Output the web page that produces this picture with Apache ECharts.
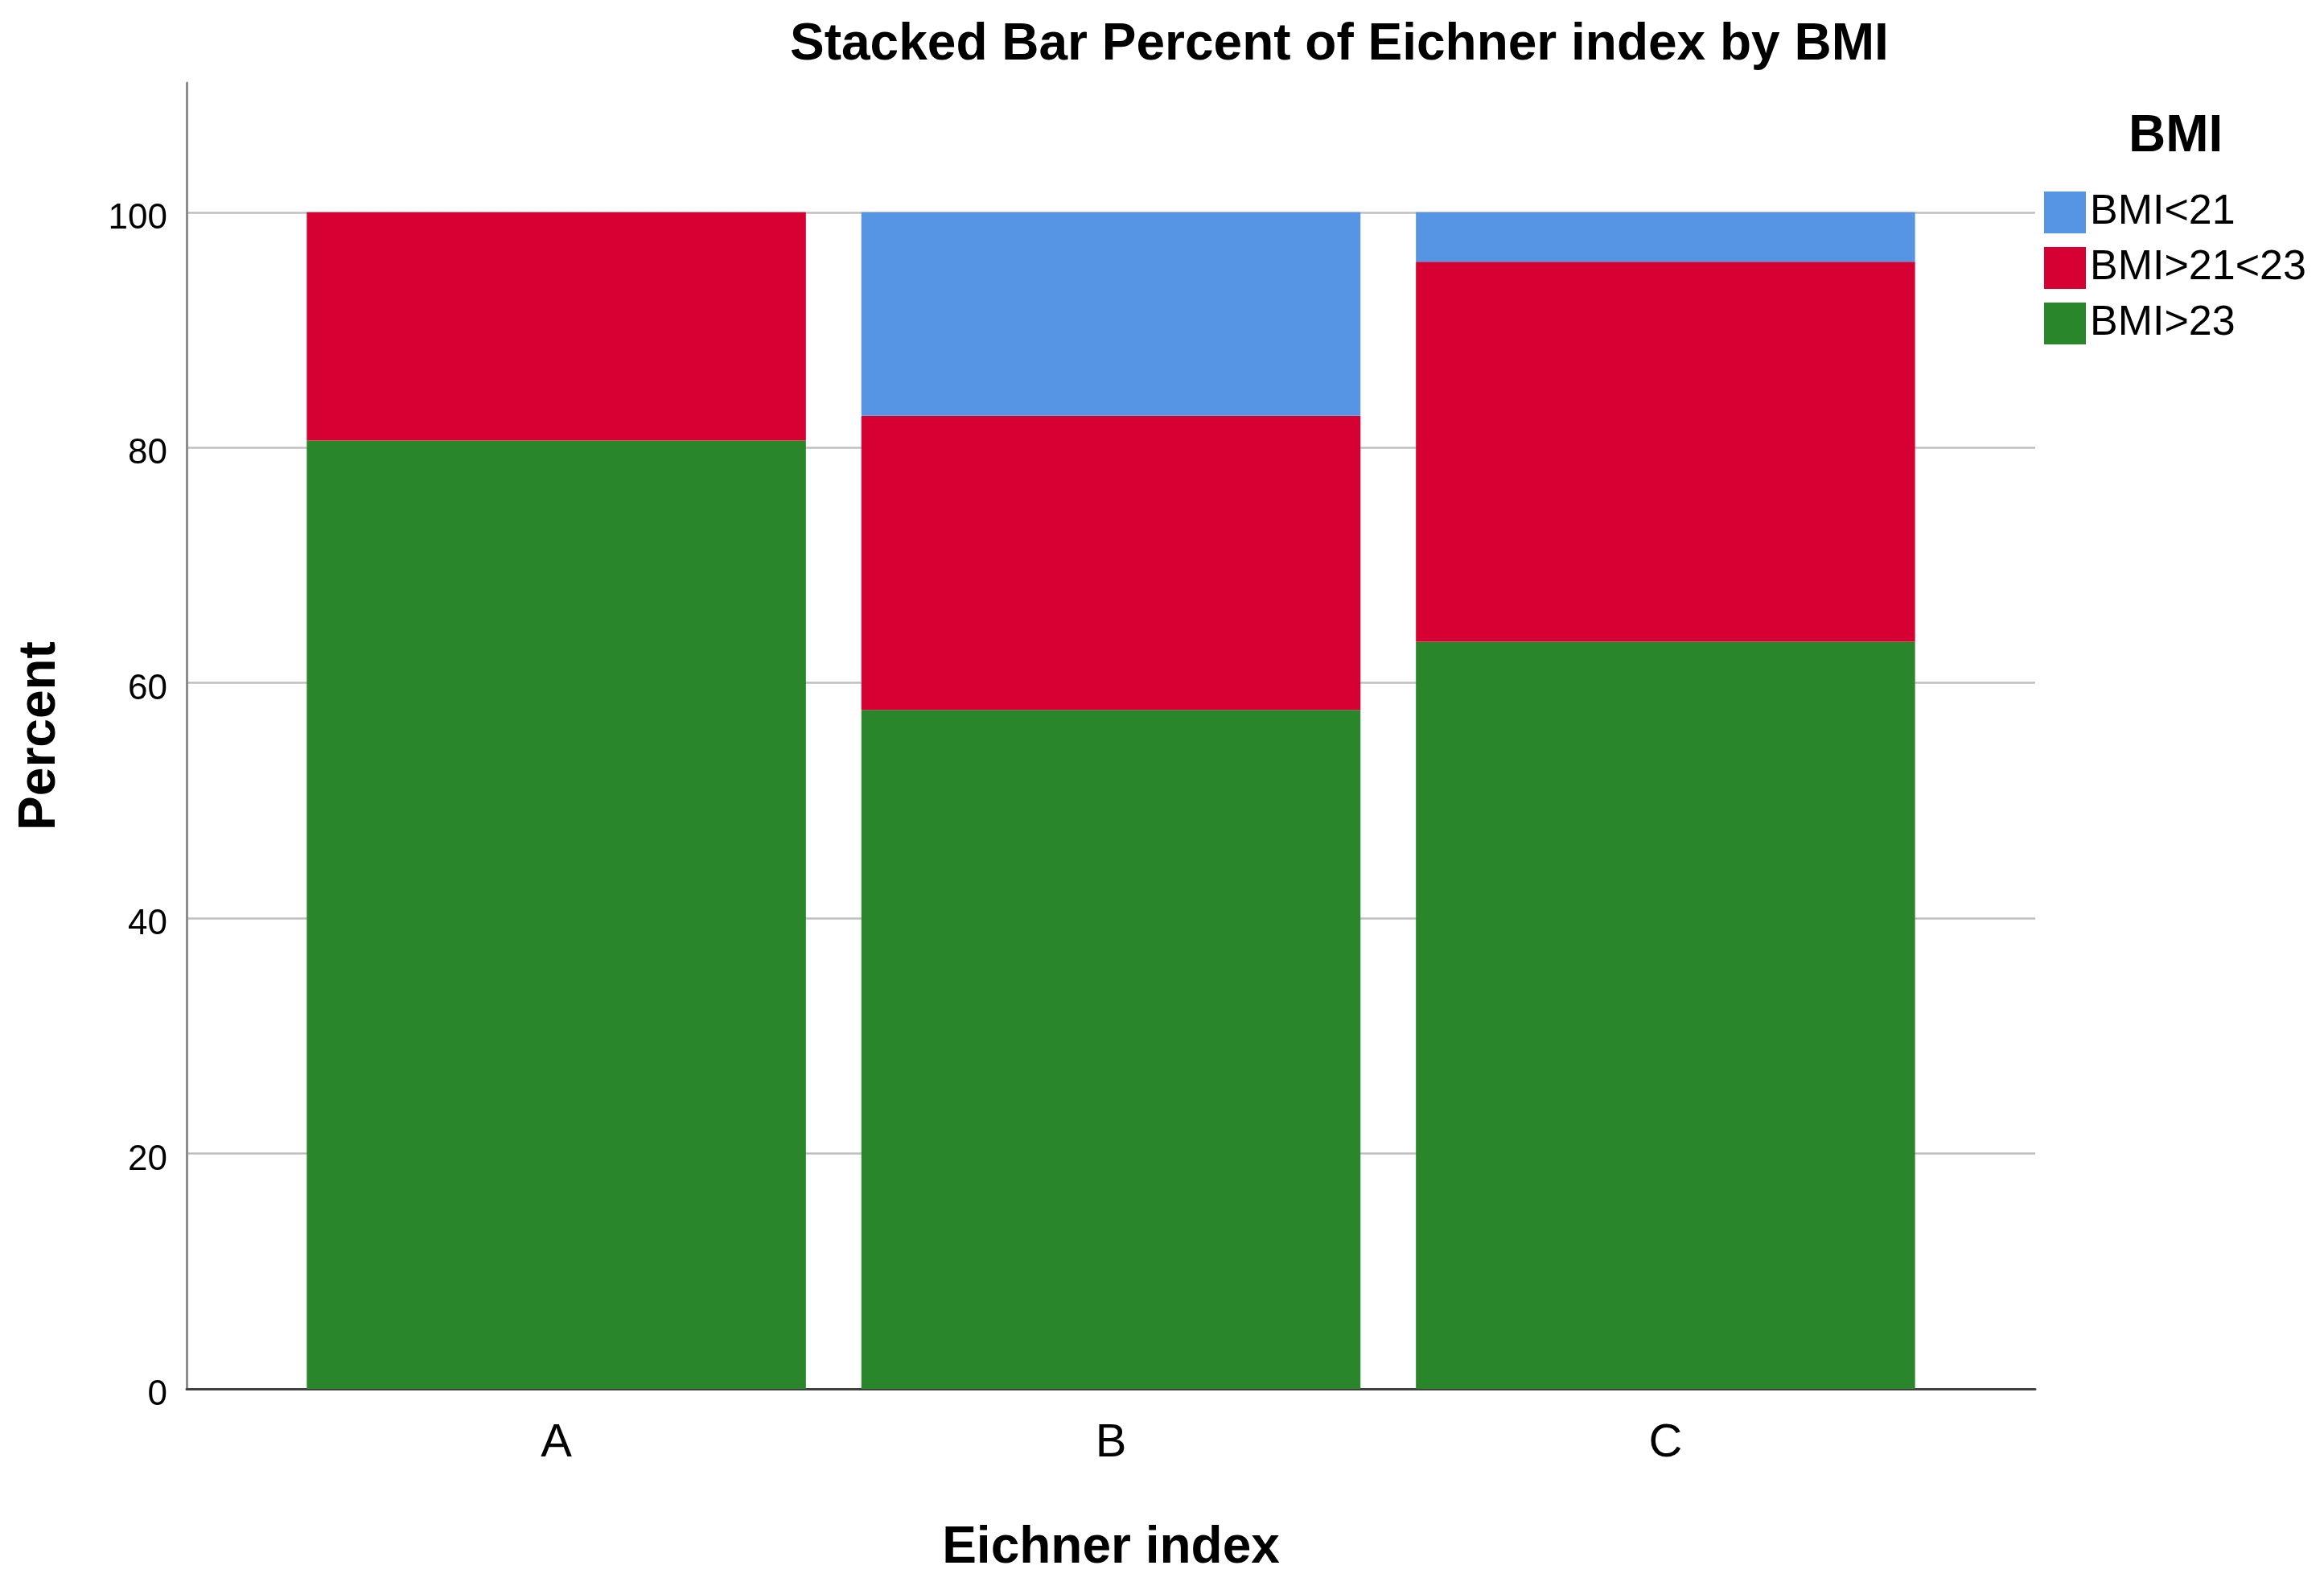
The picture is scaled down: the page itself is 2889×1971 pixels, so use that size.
<!DOCTYPE html>
<html>
<head>
<meta charset="utf-8">
<script src="https://cdn.jsdelivr.net/npm/echarts@6/dist/echarts.min.js"></script>
<style>
html,body{margin:0;padding:0;background:#fff;}
#chart{width:2889px;height:1971px;}
</style>
</head>
<body>
<div id="chart"></div>
<script>
const categories = ['A', 'B', 'C'];
const seriesNames = ['BMI<21', 'BMI>21<23', 'BMI>23'];
const bmiUnder21 = [0, 17.3, 4.2];
const bmi21to23 = [19.4, 25.0, 32.3];
const bmiOver23 = [80.6, 57.7, 63.5];
const yTicks = [0, 20, 40, 60, 80, 100];

const colors = {'BMI<21': '#5595e3', 'BMI>21<23': '#d70032', 'BMI>23': '#29862a'};
const FONT = '"Liberation Sans", Arial, sans-serif';

// points stored as [percent, categoryPosition]; encode maps column 1 to x, column 0 to y
function toPoints(vals) {
  return vals.map((v, i) => [v, i + 1]);
}

const chart = echarts.init(document.getElementById('chart'), null, {renderer: 'canvas'});

const stackOrder = [
  ['BMI>23', bmiOver23],
  ['BMI>21<23', bmi21to23],
  ['BMI<21', bmiUnder21]
];

const option = {
  backgroundColor: '#ffffff',
  animation: false,
  title: [
    {
      text: 'Stacked Bar Percent of Eichner index by BMI',
      left: 977,
      top: 19,
      textStyle: {fontFamily: FONT, fontWeight: 'bold', fontSize: 64, color: '#000'}
    },
    {
      text: 'BMI',
      left: 2641,
      top: 133,
      textStyle: {fontFamily: FONT, fontWeight: 'bold', fontSize: 64, color: '#000'}
    }
  ],
  legend: {
    orient: 'vertical',
    left: 2536,
    top: 233,
    icon: 'rect',
    itemWidth: 52,
    itemHeight: 52,
    itemGap: 17,
    data: seriesNames,
    textStyle: {fontFamily: FONT, fontSize: 52, color: '#000'}
  },
  grid: {
    left: 232,
    right: 359,
    top: 103,
    bottom: 245
  },
  xAxis: {
    type: 'value',
    min: 1 / 3,
    max: 11 / 3,
    name: 'Eichner index',
    nameLocation: 'middle',
    nameGap: 166,
    nameTextStyle: {fontFamily: FONT, fontWeight: 'bold', fontSize: 64, color: '#000'},
    axisLine: {show: true, lineStyle: {color: '#404040', width: 3}},
    axisTick: {show: false},
    splitLine: {show: false},
    axisLabel: {
      customValues: [1, 2, 3],
      formatter: v => categories[Math.round(v) - 1] || '',
      fontFamily: FONT,
      fontSize: 58,
      color: '#000',
      margin: 39
    }
  },
  yAxis: {
    type: 'value',
    min: 0,
    max: 111,
    interval: 20,
    name: 'Percent',
    nameLocation: 'middle',
    nameRotate: 90,
    nameGap: 150,
    nameTextStyle: {fontFamily: FONT, fontWeight: 'bold', fontSize: 64, color: '#000'},
    axisLine: {show: true, lineStyle: {color: '#8c8c8c', width: 3}},
    axisTick: {show: false},
    axisLabel: {
      fontFamily: FONT,
      fontSize: 44,
      color: '#000',
      margin: 24,
      verticalAlign: 'top',
      lineHeight: 16,
      showMaxLabel: false,
      formatter: v => (yTicks.indexOf(v) >= 0 ? String(v) : '')
    },
    splitLine: {show: true, showMaxLine: false, lineStyle: {color: '#bfbfbf', width: 2.5}}
  },
  series: stackOrder.map(([name, vals]) => ({
    name: name,
    type: 'bar',
    stack: 'total',
    barWidth: '90%',
    encode: {x: 1, y: 0},
    data: toPoints(vals),
    itemStyle: {color: colors[name]},
    emphasis: {disabled: true}
  }))
};

chart.setOption(option);
</script>
</body>
</html>
